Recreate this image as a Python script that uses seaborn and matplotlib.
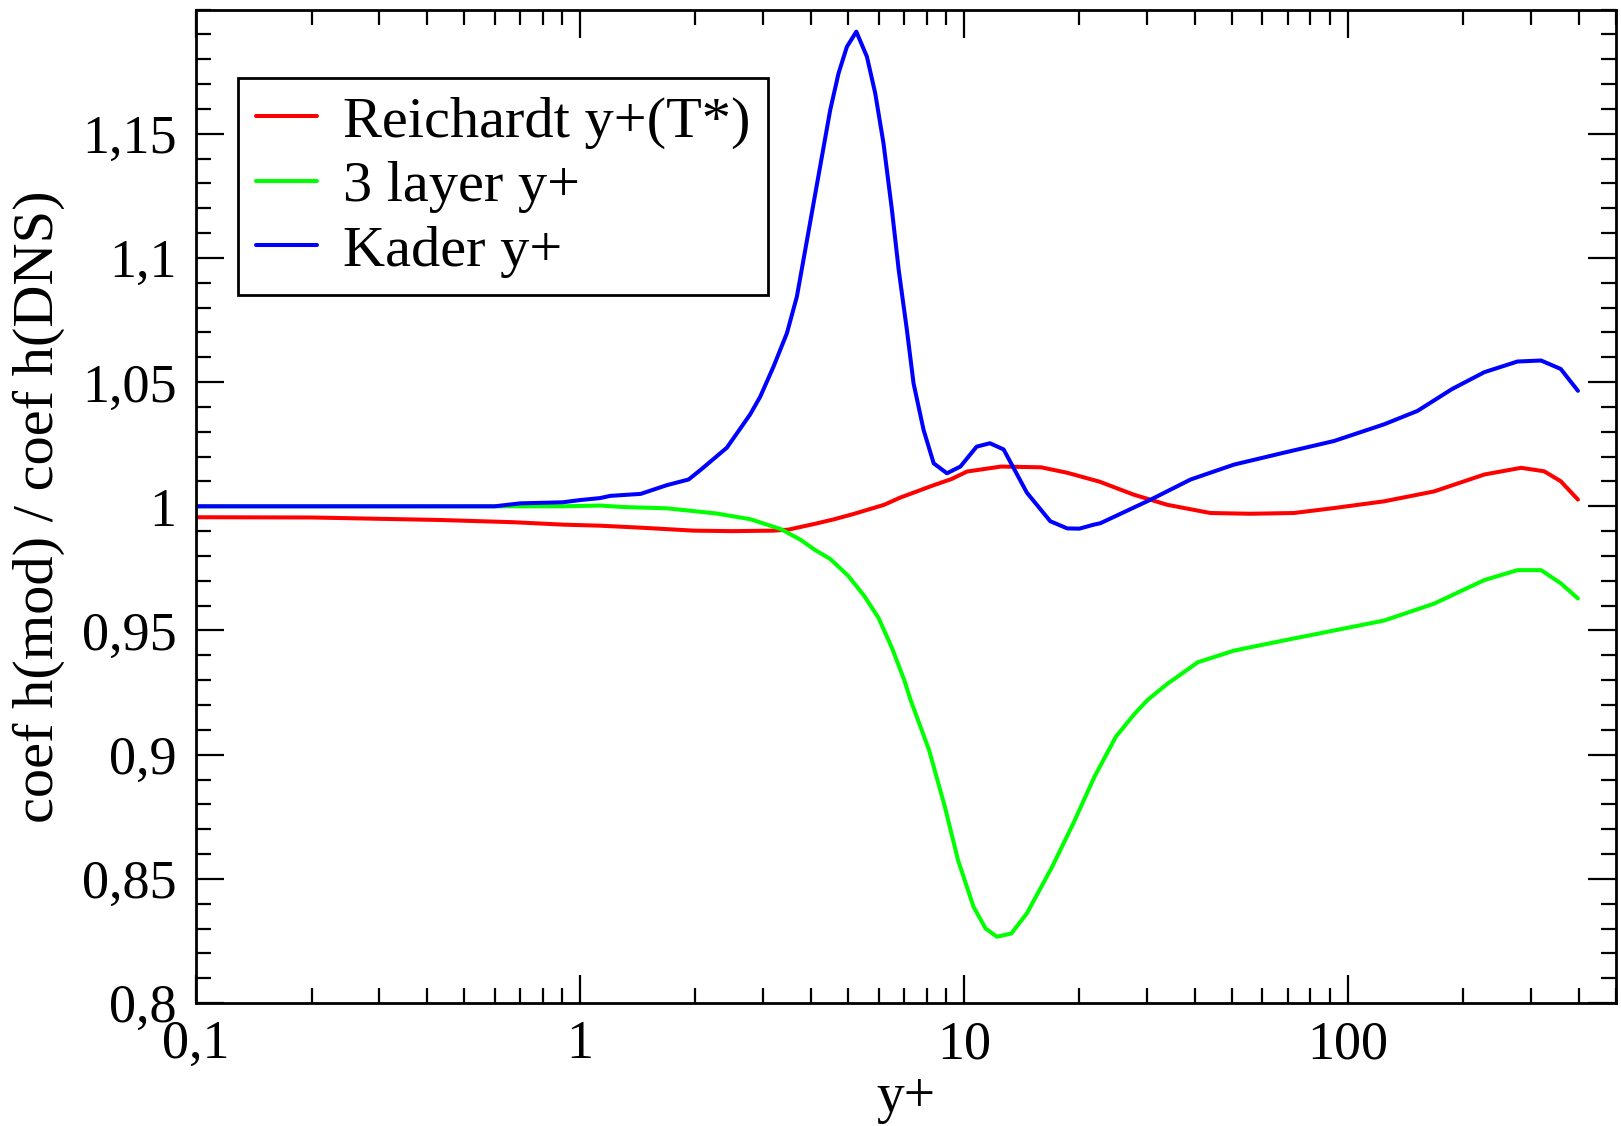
import numpy as np
import pandas as pd
import matplotlib
matplotlib.use("Agg")
import matplotlib.pyplot as plt
import matplotlib.ticker as mticker
import seaborn as sns

# ---- data ----
kader_x = [0.1, 0.3, 0.6, 0.7, 0.9, 1.0, 1.128, 1.2, 1.44, 1.684, 1.92, 2.057, 2.415, 2.777,
           2.949, 3.194, 3.462, 3.675, 3.864, 4.062, 4.269, 4.488, 4.718, 4.96, 5.25,
           5.595, 5.88, 6.18, 6.5, 6.77, 7.11, 7.40, 7.86, 8.35, 9.04, 9.8, 10.8, 11.7,
           12.7, 14.6, 16.8, 18.6, 20.0, 21.8, 22.7, 30.7, 39.0, 50.6, 68.3, 92.2, 124.4,
           152, 187, 227, 277, 319, 359, 398]
kader_y = [1.000, 1.000, 1.000, 1.0012, 1.0016, 1.0025, 1.0033, 1.0042, 1.005, 1.0085,
           1.0108, 1.0145, 1.0236, 1.0370, 1.0441, 1.0562, 1.0697, 1.0844, 1.1032, 1.122,
           1.1407, 1.1595, 1.1743, 1.185, 1.1911, 1.181, 1.1663, 1.1461, 1.1193, 1.0951,
           1.071, 1.0495, 1.0307, 1.0173, 1.0133, 1.016, 1.024, 1.0254, 1.0229, 1.0055,
           0.994, 0.9911, 0.991, 0.9926, 0.9932, 1.0027, 1.0108, 1.0168, 1.0216, 1.0263,
           1.033, 1.0384, 1.0472, 1.054, 1.0583, 1.0587, 1.0553, 1.0465]

reich_x = [0.1, 0.2, 0.43, 0.67, 0.91, 1.128, 1.44, 1.98, 2.5, 3.19, 3.49, 4.11, 4.6,
           5.16, 6.2, 6.83, 8.35, 9.3, 10.2, 12.5, 15.9, 18.6, 22.6, 27.7, 33.9, 43.9,
           55.8, 72.4, 92.2, 124.4, 168, 227, 283, 325, 359, 398]
reich_y = [0.9956, 0.9955, 0.9945, 0.9936, 0.9926, 0.9922, 0.9914, 0.9902, 0.9900,
           0.9902, 0.9906, 0.9930, 0.9948, 0.9969, 1.0006, 1.0035, 1.0085, 1.0110,
           1.0140, 1.016, 1.0157, 1.0135, 1.0099, 1.0047, 1.0006, 0.9973, 0.997, 0.9973,
           0.9993, 1.002, 1.006, 1.0128, 1.0155, 1.0141, 1.0101, 1.0027]

layer_x = [0.1, 0.5, 0.9, 1.128, 1.3, 1.684, 2.27, 2.78, 3.34, 3.75, 4.1, 4.49, 5.0,
           5.5, 6.0, 6.5, 7.0, 7.27, 8.12, 8.93, 9.66, 10.6, 11.4, 12.2, 13.3, 14.6,
           17.0, 19.3, 21.9, 24.9, 27.7, 30.1, 33.9, 40.7, 50.6, 68.3, 92.2, 124.4,
           168, 227, 277, 319, 359, 398]
layer_y = [1.000, 1.000, 1.000, 1.0003, 0.9997, 0.9992, 0.9971, 0.9948, 0.9908, 0.9866,
           0.9824, 0.9788, 0.972, 0.964, 0.955, 0.943, 0.930, 0.922, 0.9019, 0.879,
           0.8576, 0.8388, 0.830, 0.8267, 0.828, 0.8361, 0.8549, 0.8724, 0.8911, 0.9072,
           0.916, 0.922, 0.9285, 0.9372, 0.9419, 0.946, 0.950, 0.954, 0.9608, 0.9703,
           0.9743, 0.9743, 0.969, 0.9629]

labels = ["Reichardt y+(T*)", "3 layer y+", "Kader y+"]
colors = ["#ff0000", "#00ff00", "#0000ff"]

y_major = [0.8, 0.85, 0.9, 0.95, 1.0, 1.05, 1.1, 1.15]
y_major_labels = ["0,8", "0,85", "0,9", "0,95", "1", "1,05", "1,1", "1,15"]
x_major = [0.1, 1, 10, 100]
x_major_labels = ["0,1", "1", "10", "100"]

df = pd.concat([
    pd.DataFrame({"x": reich_x, "y": reich_y, "s": labels[0]}),
    pd.DataFrame({"x": layer_x, "y": layer_y, "s": labels[1]}),
    pd.DataFrame({"x": kader_x, "y": kader_y, "s": labels[2]}),
], ignore_index=True)

sns.set_theme(style="ticks")
plt.rcParams["font.family"] = ["Liberation Serif", "DejaVu Serif"]
plt.rcParams["text.color"] = "black"
plt.rcParams["axes.labelcolor"] = "black"
plt.rcParams["xtick.color"] = "black"
plt.rcParams["ytick.color"] = "black"
plt.rcParams["xtick.labelcolor"] = "black"
plt.rcParams["ytick.labelcolor"] = "black"

fig = plt.figure(figsize=(16.21, 11.26), dpi=100)
ax = fig.add_axes([0.1209, 0.1092, 0.876, 0.8823])

sns.lineplot(data=df, x="x", y="y", hue="s", hue_order=labels, palette=colors,
             estimator=None, sort=False, linewidth=2.9, ax=ax)

ax.set_xscale("log")
ax.set_xlim(0.1, 500)
ax.set_ylim(0.8, 1.2)

ax.yaxis.set_major_locator(mticker.FixedLocator(y_major))
ax.yaxis.set_major_formatter(mticker.FixedFormatter(y_major_labels))
ax.yaxis.set_minor_locator(mticker.MultipleLocator(0.01))
ax.xaxis.set_major_locator(mticker.FixedLocator(x_major))
ax.xaxis.set_major_formatter(mticker.FixedFormatter(x_major_labels))
ax.xaxis.set_minor_locator(mticker.LogLocator(base=10, subs=np.arange(2, 10)))
ax.xaxis.set_minor_formatter(mticker.NullFormatter())

for side in ["left", "right", "top", "bottom"]:
    ax.spines[side].set_visible(True)
    ax.spines[side].set_linewidth(2.0)
    ax.spines[side].set_color("black")

ax.tick_params(which="both", direction="in", top=True, right=True, color="black",
               labelcolor="black", width=1.6)
ax.tick_params(which="major", length=20, labelsize=39)
ax.tick_params(which="minor", length=11)
ax.tick_params(axis="y", which="major", pad=14)
ax.tick_params(axis="x", which="major", pad=12)

ax.set_xlabel("y+", fontsize=40, labelpad=1, color="black")
ax.set_ylabel("coef h(mod) / coef h(DNS)", fontsize=42, labelpad=12, color="black")

leg = ax.legend(loc="upper left", bbox_to_anchor=(0.0296, 0.931), fontsize=42,
                frameon=True, fancybox=False, shadow=False, framealpha=1,
                edgecolor="black", handlelength=1.05, handletextpad=0.45,
                labelspacing=0.2, borderpad=0.3, borderaxespad=0.0)
leg.get_frame().set_linewidth(2.0)
for text in leg.get_texts():
    text.set_color("black")
for line in leg.get_lines():
    line.set_linewidth(2.9)

fig.savefig("out.png", dpi=100)
